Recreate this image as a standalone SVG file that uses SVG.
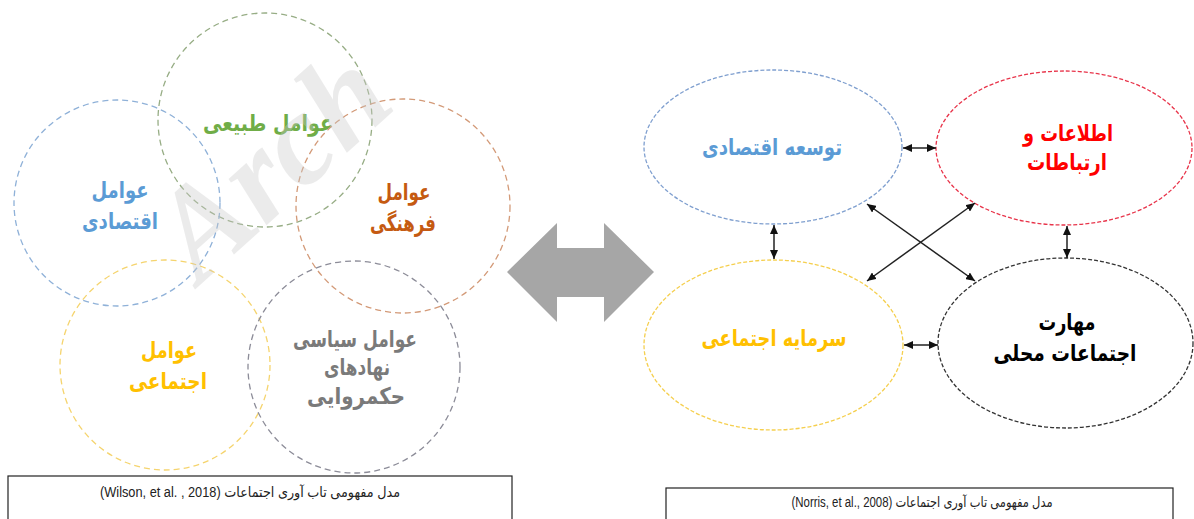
<svg xmlns="http://www.w3.org/2000/svg" width="1194" height="519" viewBox="0 0 1194 519">
<style>
.c{fill:none;stroke-width:1.3;stroke-dasharray:6 4}
.e{fill:none;stroke-width:1.3;stroke-dasharray:4 2}
.t{font-family:"DejaVu Sans",sans-serif;font-weight:bold;font-size:23px;text-anchor:middle}
.cap{font-family:"Liberation Sans","DejaVu Sans",sans-serif;font-size:14px;text-anchor:middle;fill:#222}
.box{fill:#fff;stroke:#222;stroke-width:1.2}
.ln{stroke:#222;stroke-width:1.5;fill:none;marker-start:url(#ah);marker-end:url(#ah)}
</style>
<defs>
<marker id="ah" markerUnits="userSpaceOnUse" markerWidth="9" markerHeight="8" refX="9" refY="4" orient="auto-start-reverse" viewBox="0 0 9 8">
<path d="M0,0 L9,4 L0,8 z" fill="#111"/>
</marker>
</defs>
<rect width="1194" height="519" fill="#fff"/>

<g id="left-model">
<g id="n-natural"><circle class="c" cx="265" cy="120" r="107" stroke="#97ad85"/>
<text class="t" x="268" y="131" fill="#70ad47" direction="rtl" textLength="130" lengthAdjust="spacingAndGlyphs">عوامل طبیعی</text></g>
<g id="n-economic"><circle class="c" cx="117" cy="203" r="103" stroke="#8fb1d8"/>
<text class="t" x="120" y="198" fill="#5b9bd5" direction="rtl" textLength="57" lengthAdjust="spacingAndGlyphs">عوامل</text>
<text class="t" x="120" y="229" fill="#5b9bd5" direction="rtl" textLength="76" lengthAdjust="spacingAndGlyphs">اقتصادی</text></g>
<g id="n-cultural"><circle class="c" cx="403" cy="206" r="107" stroke="#d39a78"/>
<text class="t" x="404" y="200" fill="#c55a11" direction="rtl" textLength="53" lengthAdjust="spacingAndGlyphs">عوامل</text>
<text class="t" x="403" y="231" fill="#c55a11" direction="rtl" textLength="66" lengthAdjust="spacingAndGlyphs">فرهنگی</text></g>
<g id="n-social"><circle class="c" cx="165" cy="365" r="105" stroke="#f5d46e"/>
<text class="t" x="169" y="358" fill="#ffc000" direction="rtl" textLength="56" lengthAdjust="spacingAndGlyphs">عوامل</text>
<text class="t" x="168" y="389" fill="#ffc000" direction="rtl" textLength="78" lengthAdjust="spacingAndGlyphs">اجتماعی</text></g>
<g id="n-political"><circle class="c" cx="354" cy="367" r="106" stroke="#8c8c98"/>
<text class="t" x="355" y="347" fill="#7a7a7a" direction="rtl" textLength="124" lengthAdjust="spacingAndGlyphs">عوامل سیاسی</text>
<text class="t" x="357" y="375" fill="#7a7a7a" direction="rtl" textLength="66" lengthAdjust="spacingAndGlyphs">نهادهای</text>
<text class="t" x="356" y="404" fill="#7a7a7a" direction="rtl" textLength="98" lengthAdjust="spacingAndGlyphs">حکمروایی</text></g>
</g>

<g id="big-arrow">
<path d="M507,272 L557,223 L557,248 L604,248 L604,223 L654,272 L604,322 L604,297 L557,297 L557,322 Z" fill="#a6a6a6"/>
</g>

<g id="right-model">
<g id="n-econdev"><ellipse class="e" cx="773" cy="147" rx="129" ry="77" stroke="#7f9fcf"/>
<text class="t" x="772" y="155" fill="#5b9bd5" direction="rtl" textLength="140" lengthAdjust="spacingAndGlyphs">توسعه اقتصادی</text></g>
<g id="n-info"><ellipse class="e" cx="1064" cy="148" rx="128" ry="77" stroke="#e8344a"/>
<text class="t" x="1068" y="141" fill="#ff0000" direction="rtl" textLength="90" lengthAdjust="spacingAndGlyphs">اطلاعات و</text>
<text class="t" x="1067" y="170" fill="#ff0000" direction="rtl" textLength="80" lengthAdjust="spacingAndGlyphs">ارتباطات</text></g>
<g id="n-capital"><ellipse class="e" cx="773.5" cy="345" rx="129.5" ry="85" stroke="#f5cf4e"/>
<text class="t" x="774" y="346" fill="#ffc000" direction="rtl" textLength="145" lengthAdjust="spacingAndGlyphs">سرمایه اجتماعی</text></g>
<g id="n-skills"><ellipse class="e" cx="1065.5" cy="343" rx="127.5" ry="85" stroke="#333"/>
<text class="t" x="1067" y="330" fill="#000" direction="rtl" textLength="57" lengthAdjust="spacingAndGlyphs">مهارت</text>
<text class="t" x="1065" y="361" fill="#000" direction="rtl" textLength="143" lengthAdjust="spacingAndGlyphs">اجتماعات محلی</text></g>
</g>

<g id="connectors">
<line class="ln" x1="903" y1="148" x2="936" y2="148"/>
<line class="ln" x1="904" y1="345" x2="938" y2="345"/>
<line class="ln" x1="774" y1="225" x2="774" y2="259"/>
<line class="ln" x1="1067" y1="226" x2="1067" y2="258"/>
<line class="ln" x1="867" y1="204" x2="975" y2="281"/>
<line class="ln" x1="975" y1="203" x2="867" y2="281"/>
</g>

<g id="captions">
<rect class="box" x="8" y="476" width="504" height="60"/>
<text class="cap" x="250" y="497" direction="rtl" textLength="300" lengthAdjust="spacingAndGlyphs">مدل مفهومی تاب آوری اجتماعات (Wilson, et al. , 2018)</text>
<rect class="box" x="666" y="488" width="507" height="50"/>
<text class="cap" x="922" y="507" direction="rtl" textLength="261" lengthAdjust="spacingAndGlyphs">مدل مفهومی تاب آوری اجتماعات (Norris, et al., 2008)</text>
</g>

<text x="0" y="0" transform="translate(200,285) rotate(-42)" font-family="Liberation Serif, serif" font-weight="bold" font-style="italic" font-size="130" fill="#c8c8c8" opacity="0.35">Arch</text>
</svg>
